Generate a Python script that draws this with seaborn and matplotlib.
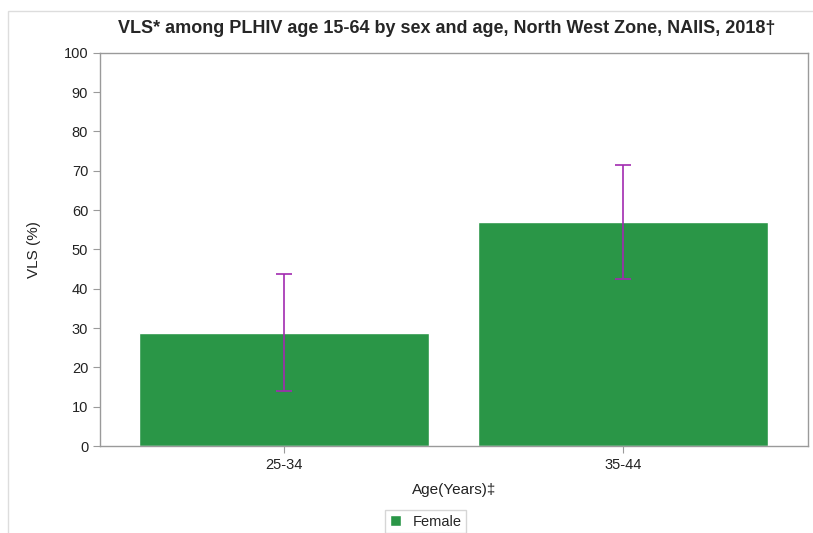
import numpy as np
import pandas as pd
import matplotlib
matplotlib.use("Agg")
import matplotlib.pyplot as plt
import seaborn as sns

# Data
age_groups = ["25-34", "35-44"]
vls_female = [28.8, 57.0]
ci_lower = [14.0, 42.5]
ci_upper = [43.7, 71.5]

df = pd.DataFrame({"age": age_groups, "vls": vls_female, "sex": "Female"})

sns.set_style("white")
plt.rcParams["font.family"] = ["Liberation Sans", "DejaVu Sans"]

BAR_COLOR = "#2A9647"
ERR_COLOR = "#A22BB0"
AXIS_GRAY = "#9a9a9a"

fig = plt.figure(figsize=(8.13, 5.33), dpi=100)
ax = fig.add_axes([0.123, 0.163, 0.871, 0.738])

sns.barplot(data=df, x="age", y="vls", hue="sex", palette=[BAR_COLOR],
            width=0.855, ax=ax, legend=True, saturation=1)

x = np.arange(len(age_groups))
vals = np.array(vls_female)
yerr = [vals - np.array(ci_lower), np.array(ci_upper) - vals]
ax.errorbar(x, vals, yerr=yerr, fmt="none", ecolor=ERR_COLOR,
            elinewidth=1.2, capsize=6, capthick=1.2)

ax.set_xlim(-0.543, 1.546)
ax.set_ylim(0, 100)
ax.set_yticks(range(0, 101, 10))
ax.set_title("VLS* among PLHIV age 15-64 by sex and age, North West Zone, NAIIS, 2018\u2020",
             fontsize=13, fontweight="bold", pad=14, x=0.49)
ax.set_ylabel("VLS (%)", fontsize=11, color="#222222", labelpad=16)
ax.set_xlabel("Age(Years)\u2021", fontsize=11, color="#222222", labelpad=8)

for s in ax.spines.values():
    s.set_color(AXIS_GRAY)
    s.set_linewidth(1)
ax.tick_params(axis="both", which="both", direction="out", length=5,
               color=AXIS_GRAY, labelsize=10.5, labelcolor="#222222")
ax.tick_params(left=True, bottom=True)

handles, labels = ax.get_legend_handles_labels()
ax.legend(handles, labels, loc="upper center", bbox_to_anchor=(0.46, -0.145),
          frameon=True, fontsize=10.5, handlelength=0.8, handleheight=0.8,
          borderpad=0.3, edgecolor="#cccccc", fancybox=False)

# thin gray frame around the figure
fig.patches.append(plt.Rectangle((0.01, -0.01), 1.0, 0.99, transform=fig.transFigure,
                                 fill=False, edgecolor="#dddddd", linewidth=1))

fig.savefig("out.png", dpi=100)
